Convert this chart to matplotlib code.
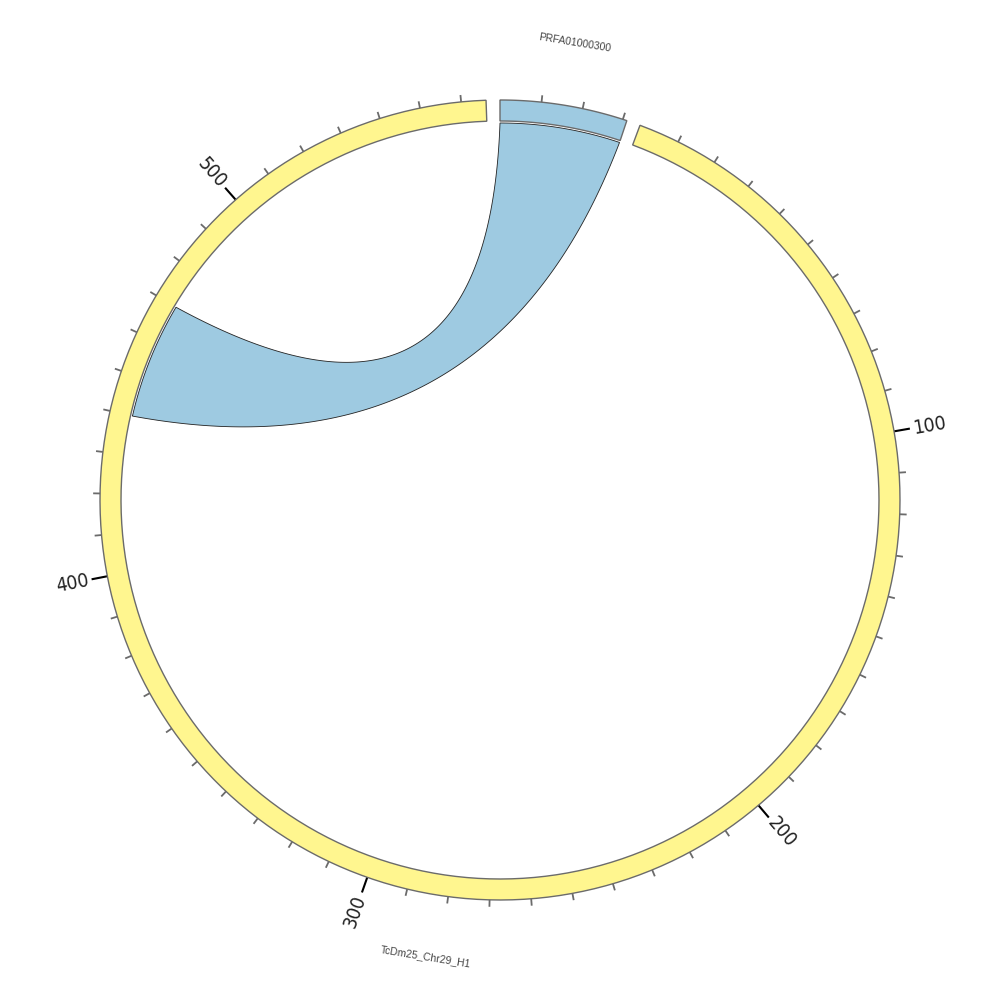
import numpy as np
import matplotlib
matplotlib.use("Agg")
import matplotlib.pyplot as plt
from matplotlib.patches import Polygon

# ---- data ----
sector_names = ["PRFA01000300", "TcDm25_Chr29_H1"]
sector_lengths = [31, 566]
sector_colors = ["#9ECAE1", "#FFF68F"]
minor_ticks = [list(range(10, 31, 10)), list(range(10, 561, 10))]
major_ticks = [[], [100, 200, 300, 400, 500]]
major_labels = [[], ["100", "200", "300", "400", "500"]]
link_from = (0, 0, 31)      # sector index, start, end
link_to = (1, 440, 470)
link_color = "#9ECAE1"

# ---- layout ----
START = 90.0
GAP = 2.0
R_OUT, R_IN, R_LINK = 400, 379, 377

total = sum(sector_lengths)
dpu = (360.0 - GAP * len(sector_lengths)) / total
starts = []
a = START
for L in sector_lengths:
    starts.append(a)
    a -= L * dpu + GAP


def ang(si, pos):
    return starts[si] - pos * dpu


def pt(theta, r):
    t = np.deg2rad(theta)
    return np.array([r * np.cos(t), r * np.sin(t)])


def arc(t1, t2, r, n=200):
    t = np.deg2rad(np.linspace(t1, t2, n))
    return np.column_stack([r * np.cos(t), r * np.sin(t)])


def bez(p0, p2, n=200):
    s = np.linspace(0, 1, n)[:, None]
    mid = (p0 + p2) / 2.0
    c = mid * 0.08
    return (1 - s) ** 2 * p0 + 2 * (1 - s) * s * c + s ** 2 * p2


fig = plt.figure(figsize=(10, 10), dpi=100)
ax = fig.add_axes([0, 0, 1, 1])
ax.set_xlim(-500, 500)
ax.set_ylim(-500, 500)
ax.set_aspect("equal")
ax.axis("off")

for i, (name, L, col) in enumerate(zip(sector_names, sector_lengths, sector_colors)):
    t1, t2 = ang(i, 0), ang(i, L)
    poly = np.vstack([arc(t1, t2, R_OUT), arc(t2, t1, R_IN)])
    ax.add_patch(Polygon(poly, closed=True, facecolor=col, edgecolor="#6b6b6b", lw=1.0, zorder=2))
    for p in minor_ticks[i]:
        if p in major_ticks[i]:
            continue
        th = ang(i, p)
        p1, p2 = pt(th, R_OUT), pt(th, R_OUT + 6)
        ax.plot([p1[0], p2[0]], [p1[1], p2[1]], color="#6b6b6b", lw=1.3, zorder=1)
    for p, lab in zip(major_ticks[i], major_labels[i]):
        th = ang(i, p)
        p1, p2 = pt(th, R_OUT), pt(th, R_OUT + 15)
        ax.plot([p1[0], p2[0]], [p1[1], p2[1]], color="black", lw=1.5, zorder=1)
        tp = pt(th, R_OUT + 19)
        thn = ((th + 180) % 360) - 180
        if -90 <= thn <= 90:
            rot, ha = thn, "left"
        else:
            rot, ha = thn + 180, "right"
        ax.text(tp[0], tp[1], lab, rotation=rot, rotation_mode="anchor", ha=ha, va="center",
                fontsize=14, color="#222222", family="DejaVu Sans",
                fontstretch="condensed", fontweight="light")
    mid = (t1 + t2) / 2.0
    mp = pt(mid, 463)
    s = np.sin(np.deg2rad(mid))
    rot = mid - 90 if s >= 0 else mid + 90
    ax.text(mp[0], mp[1], name, rotation=rot, rotation_mode="anchor", ha="center", va="center",
            fontsize=7.5, color="#444444", family=["Liberation Sans", "DejaVu Sans"])

# link
sa, a1, a2 = link_from
sb, b1, b2 = link_to
ta1, ta2 = ang(sa, a1), ang(sa, a2)
tb1, tb2 = ang(sb, b1), ang(sb, b2)
path = np.vstack([
    arc(ta1, ta2, R_LINK),
    bez(pt(ta2, R_LINK), pt(tb1, R_LINK)),
    arc(tb1, tb2, R_LINK),
    bez(pt(tb2, R_LINK), pt(ta1, R_LINK)),
])
ax.add_patch(Polygon(path, closed=True, facecolor=link_color, edgecolor="#222222", lw=0.6, zorder=3))

fig.savefig("out.png", dpi=100, facecolor="white")
